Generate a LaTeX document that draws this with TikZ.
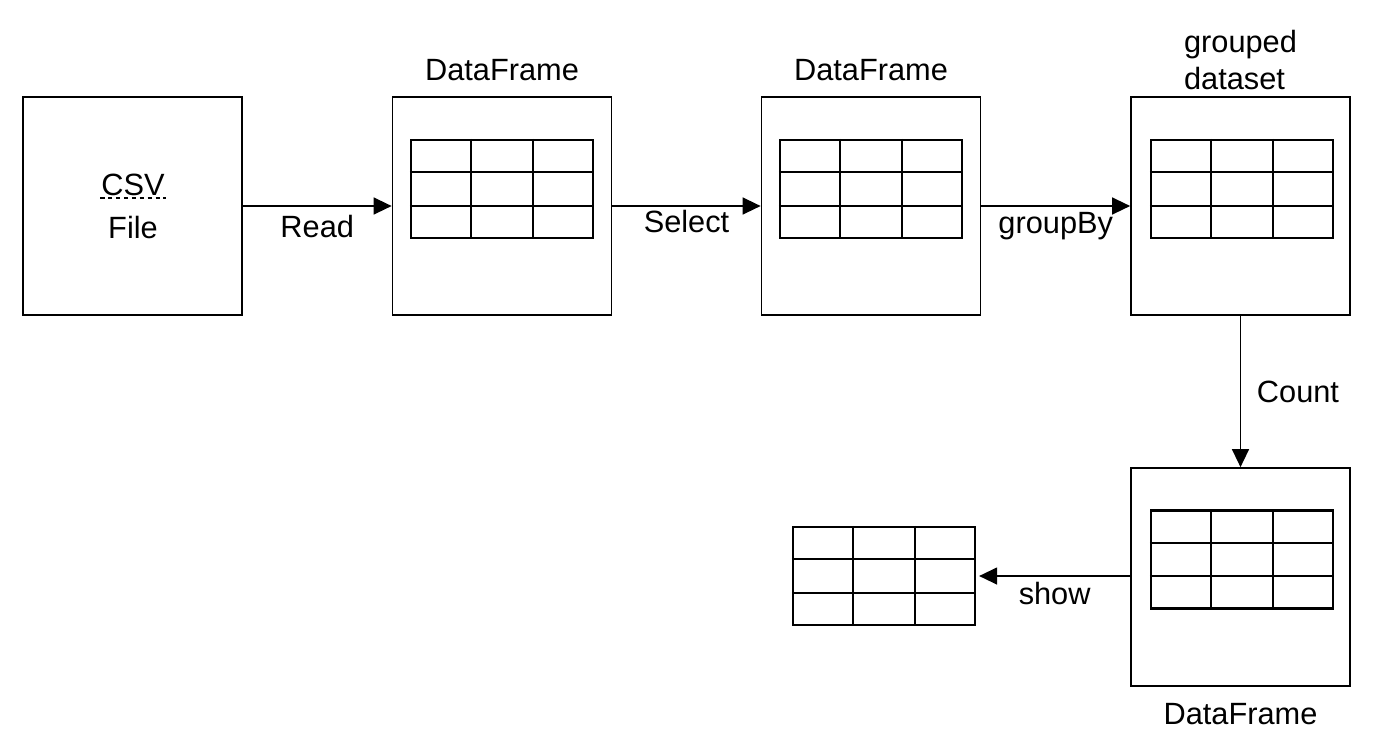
\documentclass[tikz,border=0pt]{standalone}
\usepackage{fontspec}
\setmainfont{Liberation Sans}
\usetikzlibrary{arrows.meta,calc,positioning}

\tikzset{
  dfbox/.style={draw, line width=1pt, minimum width=4.38cm, minimum height=4.36cm, inner sep=0pt},
  dftab/.style={draw, line width=1.3pt, minimum width=3.64cm, minimum height=1.96cm, inner sep=0pt},
  flow/.style={line width=0.8pt, -{Triangle[length=0.36cm,width=0.34cm]}},
  lbl/.style={font=\fontsize{17.5}{21}\selectfont, inner sep=1pt}
}
% inner lines of a 3x3 table node
\newcommand{\tabgrid}[1]{%
  \foreach \f in {1,2} {
    \draw[line width=1.3pt] ($(#1.north west)!\f/3!(#1.south west)$) -- ($(#1.north east)!\f/3!(#1.south east)$);
    \draw[line width=1.3pt] ($(#1.north west)!\f/3!(#1.north east)$) -- ($(#1.south west)!\f/3!(#1.south east)$);
  }}

\begin{document}
\begin{tikzpicture}[x=0.02cm, y=-0.02cm]
  \useasboundingbox (0,0) rectangle (1374,748);
  % boxes
  \node[dfbox] (csv) at (132.5,206) {};
  \node[dfbox] (df1) at (502,206) {};
  \node[dfbox] (df2) at (871,206) {};
  \node[dfbox] (grp) at (1240.5,206) {};
  \node[dfbox] (cnt) at (1240.5,577) {};
  % tables
  \node[dftab] (tab1) at (502,189) {};
  \node[dftab] (tab2) at (871,189) {};
  \node[dftab] (tab3) at (1242,189) {};
  \node[dftab] (tab4) at (1242,559.5) {};
  \node[dftab] (out) at (884,576) {};
  \foreach \t in {tab1,tab2,tab3,tab4,out} {\tabgrid{\t}}
  % texts
  \node[lbl, inner xsep=0.5pt] (csvlbl) at (133,185) {CSV};
  \draw[line width=0.6pt, dash pattern=on 2.5pt off 2pt] (csvlbl.south west) -- (csvlbl.south east);
  \node[lbl] (filelbl) at (133,228) {File};
  \node[lbl, above=0.26cm of df1] (df1lbl) {DataFrame};
  \node[lbl, above=0.26cm of df2] (df2lbl) {DataFrame};
  \node[lbl, above=0.08cm of grp, align=left] (grplbl) {grouped\\dataset};
  \node[lbl, below=0.28cm of cnt] (cntlbl) {DataFrame};
  % connectors
  \draw[flow] (csv.east) -- (df1.west) node[lbl, midway, below=0.14cm] {Read};
  \draw[flow] (df1.east) -- (df2.west) node[lbl, midway, below=0.04cm] {Select};
  \draw[flow] (df2.east) -- (grp.west) node[lbl, midway, below=0.08cm] {groupBy};
  \draw[flow] (grp.south) -- (cnt.north) node[lbl, midway, right=0.28cm] {Count};
  \draw[flow] (out.east -| cnt.west) -- ($(out.east)+(3,0)$) node[lbl, midway, below=0.08cm] {show};
\end{tikzpicture}
\end{document}
